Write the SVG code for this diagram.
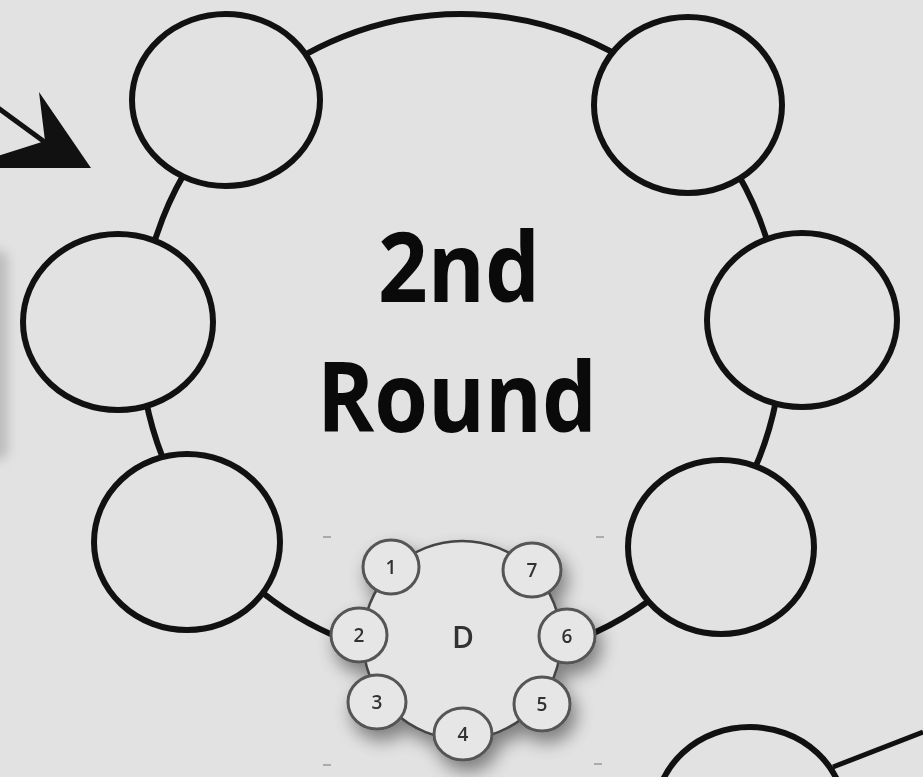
<svg xmlns="http://www.w3.org/2000/svg" width="923" height="777" viewBox="0 0 923 777">
  <defs>
    <style>
      .seat { fill: #e2e2e2; stroke: #111; stroke-width: 6; }
      .ring { fill: none; stroke: #111; stroke-width: 6; }
      .mseat { fill: #e6e6e6; stroke: #555; stroke-width: 3; }
      .mring { fill: #e5e5e5; stroke: #444; stroke-width: 2.5; }
      .num { font-family: "Open Sans", "Liberation Sans", sans-serif; font-weight: 600; font-size: 19px; fill: #333; text-anchor: middle; }
      .big { font-family: "Open Sans", "Liberation Sans", sans-serif; font-weight: 700; font-size: 96px; fill: #0a0a0a; text-anchor: middle; }
      .mark { stroke: #999; stroke-width: 1.5; }
    </style>
    <filter id="soft" x="-100%" y="-20%" width="300%" height="140%">
      <feGaussianBlur stdDeviation="6"/>
    </filter>
    <filter id="shadow" x="-25%" y="-25%" width="160%" height="160%">
      <feGaussianBlur in="SourceAlpha" stdDeviation="9"/>
      <feOffset dx="5" dy="10" result="b"/>
      <feComponentTransfer><feFuncA type="linear" slope="0.45"/></feComponentTransfer>
      <feMerge><feMergeNode/><feMergeNode in="SourceGraphic"/></feMerge>
    </filter>
  </defs>

  <rect width="923" height="777" fill="#e2e2e2"/>
  <rect x="-20" y="250" width="28" height="210" rx="10" fill="#bcbcbc" filter="url(#soft)"/>

  <g id="connectors">
    <ellipse class="ring" cx="461" cy="338" rx="321" ry="324"/>
    <path d="M833,767 L923,732" stroke="#111" stroke-width="5" fill="none"/>
    <line x1="-2" y1="108" x2="46" y2="143" stroke="#111" stroke-width="5"/>
    <polygon points="39,92 91,168 -2,168 -2,156 45,141" fill="#111"/>
  </g>

  <g id="seat-top-left"><ellipse class="seat" cx="226" cy="100" rx="94" ry="86"/></g>
  <g id="seat-top-right"><ellipse class="seat" cx="688" cy="105" rx="94" ry="88"/></g>
  <g id="seat-mid-left"><ellipse class="seat" cx="118" cy="322" rx="95" ry="88"/></g>
  <g id="seat-mid-right"><ellipse class="seat" cx="802" cy="320" rx="95" ry="87"/></g>
  <g id="seat-bottom-left"><ellipse class="seat" cx="187" cy="542" rx="93" ry="88"/></g>
  <g id="seat-bottom-right"><ellipse class="seat" cx="721" cy="547" rx="93" ry="87"/></g>
  <g id="seat-partial"><ellipse class="seat" cx="750" cy="815" rx="95" ry="88"/></g>

  <g id="title">
    <text class="big" x="459" y="302" textLength="162" lengthAdjust="spacingAndGlyphs">2nd</text>
    <text class="big" x="457" y="432" textLength="280" lengthAdjust="spacingAndGlyphs">Round</text>
  </g>

  <g id="marks">
    <line class="mark" x1="323" y1="537" x2="331" y2="537"/>
    <line class="mark" x1="596" y1="537" x2="604" y2="537"/>
    <line class="mark" x1="323" y1="765" x2="331" y2="765"/>
    <line class="mark" x1="594" y1="764" x2="602" y2="764"/>
  </g>

  <g id="table-D" filter="url(#shadow)">
    <circle class="mring" cx="462" cy="640" r="99"/>
    <text x="463" y="648" font-family="'Open Sans', 'Liberation Sans', sans-serif" font-weight="600" font-size="30" fill="#333" text-anchor="middle">D</text>
    <g id="d-seat-1"><ellipse class="mseat" cx="391" cy="567" rx="28" ry="27"/><text class="num" x="391" y="574">1</text></g>
    <g id="d-seat-2"><ellipse class="mseat" cx="359" cy="635" rx="28" ry="27"/><text class="num" x="359" y="642">2</text></g>
    <g id="d-seat-3"><ellipse class="mseat" cx="377" cy="702" rx="29" ry="27"/><text class="num" x="377" y="709">3</text></g>
    <g id="d-seat-4"><ellipse class="mseat" cx="463" cy="734" rx="29" ry="26"/><text class="num" x="463" y="741">4</text></g>
    <g id="d-seat-5"><ellipse class="mseat" cx="542" cy="704" rx="28" ry="27"/><text class="num" x="542" y="711">5</text></g>
    <g id="d-seat-6"><ellipse class="mseat" cx="567" cy="636" rx="28" ry="27"/><text class="num" x="567" y="643">6</text></g>
    <g id="d-seat-7"><ellipse class="mseat" cx="532" cy="570" rx="29" ry="27"/><text class="num" x="532" y="577">7</text></g>
  </g>
</svg>
